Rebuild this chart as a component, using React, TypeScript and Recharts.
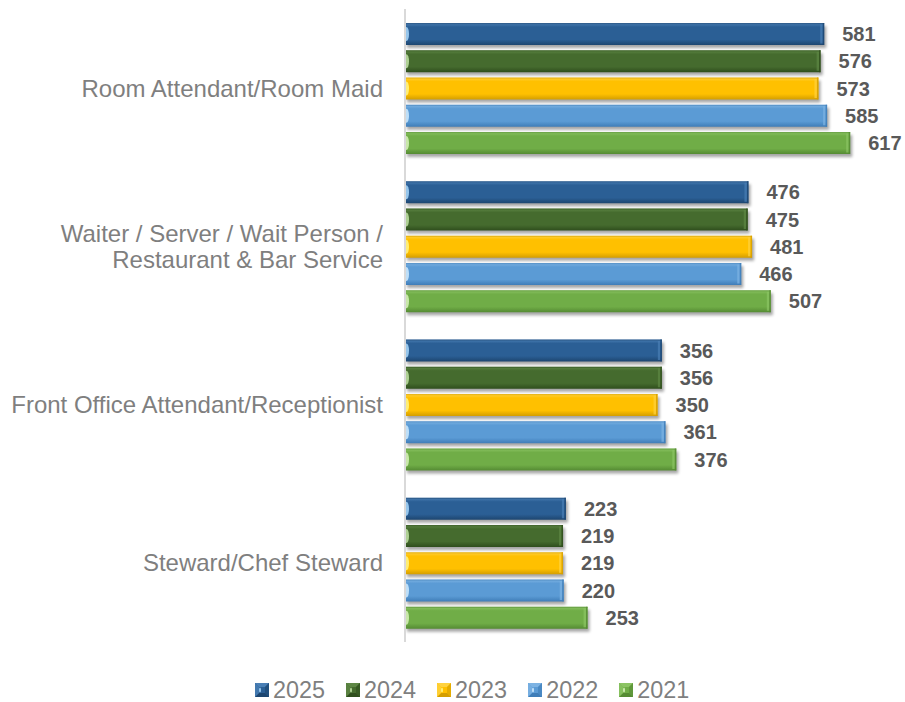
import React from "react";
import { BarChart, Bar, XAxis, YAxis, LabelList, Legend } from "recharts";

const categories = [
  "Room Attendant/Room Maid",
  "Waiter / Server / Wait Person / Restaurant & Bar Service",
  "Front Office Attendant/Receptionist",
  "Steward/Chef Steward",
];
const values2025 = [581, 476, 356, 223];
const values2024 = [576, 475, 356, 219];
const values2023 = [573, 481, 350, 219];
const values2022 = [585, 466, 361, 220];
const values2021 = [617, 507, 376, 253];

const seriesKeys = ["2025", "2024", "2023", "2022", "2021"];
const seriesValues = [values2025, values2024, values2023, values2022, values2021];

const palette: Record<string, { base: string; light: string; dark: string; cap: string }> = {
  "2025": { base: "#2B5F95", light: "#4A7FB5", dark: "#1D4670", cap: "#9CCBF0" },
  "2024": { base: "#456B2E", light: "#5E8745", dark: "#2F4E1D", cap: "#B5D79A" },
  "2023": { base: "#FFC000", light: "#FFD23F", dark: "#D49E00", cap: "#FFF07A" },
  "2022": { base: "#5B9BD5", light: "#7DB3E3", dark: "#3F7DB8", cap: "#C4E3FA" },
  "2021": { base: "#70AD47", light: "#8CC464", dark: "#558B33", cap: "#CDEBB0" },
};

const data = categories.map((name, i) => {
  const row: Record<string, string | number> = { name };
  seriesKeys.forEach((k, s) => {
    row[k] = seriesValues[s][i];
  });
  return row;
});

const FONT = "'Liberation Sans', Arial, sans-serif";

const makeShape = (key: string) => (props: any) => {
  const { x, y, width, height } = props;
  if (!width || width <= 0) return <g />;
  const c = palette[key];
  return (
    <g>
      <rect x={x + 2} y={y + 3} width={width} height={height} fill="#000" opacity={0.35} filter="url(#barShadow)" />
      <rect x={x} y={y} width={width} height={height} fill={`url(#grad-${key})`} />
      <rect x={x} y={y} width={width} height={1.2} fill={c.dark} opacity={0.5} />
      <rect x={x + width - 4} y={y + 1.5} width={2.5} height={height - 3} fill={c.light} opacity={0.7} />
      <rect x={x + width - 1.5} y={y} width={1.5} height={height} fill={c.dark} opacity={0.8} />
      <ellipse cx={x + 1.5} cy={y + height / 2} rx={2.5} ry={height * 0.32} fill={c.cap} opacity={0.95} />
    </g>
  );
};

const CategoryTick = (props: any) => {
  const { x, y, payload } = props;
  const label: string = payload.value;
  let lines: string[] = [label];
  if (label.startsWith("Waiter")) {
    lines = ["Waiter / Server / Wait Person /", "Restaurant & Bar Service"];
  }
  const pitch = 26;
  const start = y - ((lines.length - 1) * pitch) / 2;
  return (
    <g>
      {lines.map((ln, i) => (
        <text
          key={i}
          x={x}
          y={start + i * pitch}
          textAnchor="end"
          dominantBaseline="central"
          fill="#7F7F7F"
          fontSize={24}
          fontFamily={FONT}
        >
          {ln}
        </text>
      ))}
    </g>
  );
};

const LegendMarker = ({ k }: { k: string }) => {
  const c = palette[k];
  return (
    <svg width={14} height={14} style={{ display: "block" }}>
      <rect x={0} y={0} width={14} height={14} fill={c.base} />
      <polygon points="0,0 14,0 10,4 4,4" fill={c.light} />
      <polygon points="0,14 14,14 10,10 4,10" fill={c.dark} />
      <polygon points="14,0 14,14 10,10 10,4" fill={c.dark} opacity={0.6} />
      <polygon points="0,0 0,14 4,10 4,4" fill={c.light} opacity={0.8} />
      <rect x={4} y={4} width={6} height={6} fill={c.base} />
      <ellipse cx={5} cy={7} rx={1} ry={2.5} fill={c.cap} />
    </svg>
  );
};

const renderLegend = () => (
  <div style={{ display: "flex", alignItems: "center", height: 22, fontFamily: FONT }}>
    {seriesKeys.map((k) => (
      <div key={k} style={{ display: "flex", alignItems: "center", marginRight: 21 }}>
        <LegendMarker k={k} />
        <span style={{ marginLeft: 4, fontSize: 23.4, color: "#7F7F7F", lineHeight: "22px" }}>{k}</span>
      </div>
    ))}
  </div>
);

export default function App() {
  return (
    <div style={{ position: "absolute", left: 0, top: 0, width: 905, height: 702, background: "#fff" }}>
      <BarChart
        width={905}
        height={702}
        data={data}
        layout="vertical"
        margin={{ top: 9, right: 31, bottom: 38, left: 0 }}
        barSize={22}
        barGap={5.25}
      >
        <defs>
          {seriesKeys.map((k) => (
            <linearGradient key={k} id={`grad-${k}`} x1="0" y1="0" x2="0" y2="1">
              <stop offset="0%" stopColor={palette[k].light} />
              <stop offset="18%" stopColor={palette[k].base} />
              <stop offset="75%" stopColor={palette[k].base} />
              <stop offset="100%" stopColor={palette[k].dark} />
            </linearGradient>
          ))}
          <filter id="barShadow" x="-5%" y="-30%" width="110%" height="160%">
            <feGaussianBlur stdDeviation="1.5" />
          </filter>
        </defs>
        <XAxis type="number" domain={[0, 650]} hide />
        <YAxis
          type="category"
          dataKey="name"
          width={405}
          axisLine={{ stroke: "#D9D9D9", strokeWidth: 2 }}
          tickLine={false}
          tickSize={0}
          tickMargin={22}
          tick={<CategoryTick />}
          interval={0}
        />
        <Legend
          content={renderLegend}
          wrapperStyle={{ left: 255, top: 679, width: "auto", bottom: "auto" }}
        />
        {seriesKeys.map((k) => (
          <Bar key={k} dataKey={k} fill={palette[k].base} isAnimationActive={false} shape={makeShape(k)}>
            <LabelList
              dataKey={k}
              position="right"
              offset={18}
              fill="#595959"
              fontSize={20}
              fontWeight="bold"
              fontFamily={FONT}
            />
          </Bar>
        ))}
      </BarChart>
    </div>
  );
}
